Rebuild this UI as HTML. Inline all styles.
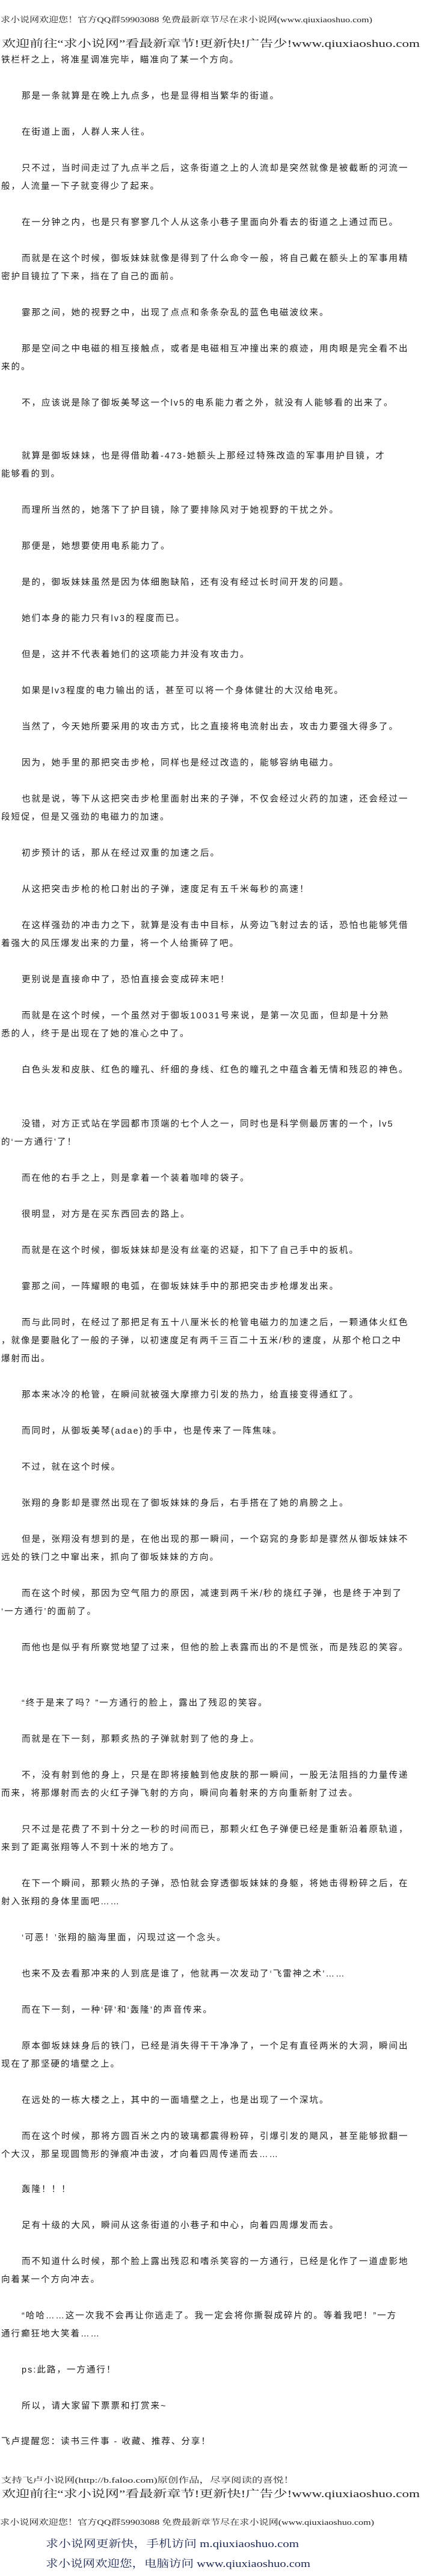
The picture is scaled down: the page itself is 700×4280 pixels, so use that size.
<!DOCTYPE html>
<html><head><meta charset="utf-8">
<style>
html,body{margin:0;padding:0;background:#fff;}
body{width:700px;height:4280px;position:relative;overflow:hidden;}
.l{position:absolute;white-space:nowrap;font-family:"Liberation Sans","Noto Sans CJK SC",sans-serif;font-size:14.5px;letter-spacing:2px;line-height:30px;color:#1a1a1a;height:30px;}
.i{left:36px;}
.c{left:2px;}
svg text{font-family:"Liberation Serif","Noto Serif CJK SC","Noto Sans CJK SC",serif;}
</style></head><body>

<svg width="700" height="130" style="position:absolute;left:0;top:0">
<text x="1" y="37" font-size="13" textLength="618" lengthAdjust="spacingAndGlyphs" fill="#222" font-family="Liberation Sans,Noto Sans CJK SC,sans-serif">求小说网欢迎您！官方QQ群59903088 免费最新章节尽在求小说网(www.qiuxiaoshuo.com)</text>
<text x="3" y="78" font-size="17" textLength="695" lengthAdjust="spacingAndGlyphs" fill="#222">欢迎前往“求小说网”看最新章节!更新快!广告少!www.qiuxiaoshuo.com</text>
</svg>
<div class="l c" style="top:85px">铁栏杆之上，将准星调准完毕，瞄准向了某一个方向。</div>

<div class="l i" style="top:145px">那是一条就算是在晚上九点多，也是显得相当繁华的街道。</div>
<div class="l i" style="top:205px">在街道上面，人群人来人往。</div>
<div class="l i" style="top:265px">只不过，当时间走过了九点半之后，这条街道之上的人流却是突然就像是被截断的河流一</div>
<div class="l c" style="top:295px">般，人流量一下子就变得少了起来。</div>
<div class="l i" style="top:355px">在一分钟之内，也是只有寥寥几个人从这条小巷子里面向外看去的街道之上通过而已。</div>
<div class="l i" style="top:415px">而就是在这个时候，御坂妹妹就像是得到了什么命令一般，将自己戴在额头上的军事用精</div>
<div class="l c" style="top:445px">密护目镜拉了下来，挡在了自己的面前。</div>
<div class="l i" style="top:505px">霎那之间，她的视野之中，出现了点点和条条杂乱的蓝色电磁波纹来。</div>
<div class="l i" style="top:565px">那是空间之中电磁的相互接触点，或者是电磁相互冲撞出来的痕迹，用肉眼是完全看不出</div>
<div class="l c" style="top:595px">来的。</div>
<div class="l i" style="top:655px">不，应该说是除了御坂美琴这一个lv5的电系能力者之外，就没有人能够看的出来了。</div>
<div class="l i" style="top:743px">就算是御坂妹妹，也是得借助着-473-她额头上那经过特殊改造的军事用护目镜，才</div>
<div class="l c" style="top:773px">能够看的到。</div>
<div class="l i" style="top:833px">而理所当然的，她落下了护目镜，除了要排除风对于她视野的干扰之外。</div>
<div class="l i" style="top:893px">那便是，她想要使用电系能力了。</div>
<div class="l i" style="top:953px">是的，御坂妹妹虽然是因为体细胞缺陷，还有没有经过长时间开发的问题。</div>
<div class="l i" style="top:1013px">她们本身的能力只有lv3的程度而已。</div>
<div class="l i" style="top:1073px">但是，这并不代表着她们的这项能力并没有攻击力。</div>
<div class="l i" style="top:1133px">如果是lv3程度的电力输出的话，甚至可以将一个身体健壮的大汉给电死。</div>
<div class="l i" style="top:1193px">当然了，今天她所要采用的攻击方式，比之直接将电流射出去，攻击力要强大得多了。</div>
<div class="l i" style="top:1253px">因为，她手里的那把突击步枪，同样也是经过改造的，能够容纳电磁力。</div>
<div class="l i" style="top:1313px">也就是说，等下从这把突击步枪里面射出来的子弹，不仅会经过火药的加速，还会经过一</div>
<div class="l c" style="top:1343px">段短促，但是又强劲的电磁力的加速。</div>
<div class="l i" style="top:1403px">初步预计的话，那从在经过双重的加速之后。</div>
<div class="l i" style="top:1463px">从这把突击步枪的枪口射出的子弹，速度足有五千米每秒的高速！</div>
<div class="l i" style="top:1523px">在这样强劲的冲击力之下，就算是没有击中目标，从旁边飞射过去的话，恐怕也能够凭借</div>
<div class="l c" style="top:1553px">着强大的风压爆发出来的力量，将一个人给撕碎了吧。</div>
<div class="l i" style="top:1613px">更别说是直接命中了，恐怕直接会变成碎末吧！</div>
<div class="l i" style="top:1673px">而就是在这个时候，一个虽然对于御坂10031号来说，是第一次见面，但却是十分熟</div>
<div class="l c" style="top:1703px">悉的人，终于是出现在了她的准心之中了。</div>
<div class="l i" style="top:1763px">白色头发和皮肤、红色的瞳孔、纤细的身线、红色的瞳孔之中蕴含着无情和残忍的神色。</div>
<div class="l i" style="top:1853px">没错，对方正式站在学园都市顶端的七个人之一，同时也是科学侧最厉害的一个，lv5</div>
<div class="l c" style="top:1883px">的‘一方通行’了！</div>
<div class="l i" style="top:1943px">而在他的右手之上，则是拿着一个装着咖啡的袋子。</div>
<div class="l i" style="top:2003px">很明显，对方是在买东西回去的路上。</div>
<div class="l i" style="top:2063px">而就是在这个时候，御坂妹妹却是没有丝毫的迟疑，扣下了自己手中的扳机。</div>
<div class="l i" style="top:2123px">霎那之间，一阵耀眼的电弧，在御坂妹妹手中的那把突击步枪爆发出来。</div>
<div class="l i" style="top:2183px">而与此同时，在经过了那把足有五十八厘米长的枪管电磁力的加速之后，一颗通体火红色</div>
<div class="l c" style="top:2213px">，就像是要融化了一般的子弹，以初速度足有两千三百二十五米/秒的速度，从那个枪口之中</div>
<div class="l c" style="top:2243px">爆射而出。</div>
<div class="l i" style="top:2303px">那本来冰冷的枪管，在瞬间就被强大摩擦力引发的热力，给直接变得通红了。</div>
<div class="l i" style="top:2363px">而同时，从御坂美琴(adae)的手中，也是传来了一阵焦味。</div>
<div class="l i" style="top:2423px">不过，就在这个时候。</div>
<div class="l i" style="top:2483px">张翔的身影却是骤然出现在了御坂妹妹的身后，右手搭在了她的肩膀之上。</div>
<div class="l i" style="top:2543px">但是，张翔没有想到的是，在他出现的那一瞬间，一个窈窕的身影却是骤然从御坂妹妹不</div>
<div class="l c" style="top:2573px">远处的铁门之中窜出来，抓向了御坂妹妹的方向。</div>
<div class="l i" style="top:2633px">而在这个时候，那因为空气阻力的原因，减速到两千米/秒的烧红子弹，也是终于冲到了</div>
<div class="l c" style="top:2663px">‘一方通行’的面前了。</div>
<div class="l i" style="top:2723px">而他也是似乎有所察觉地望了过来，但他的脸上表露而出的不是慌张，而是残忍的笑容。</div>
<div class="l i" style="top:2815px">“终于是来了吗？”一方通行的脸上，露出了残忍的笑容。</div>
<div class="l i" style="top:2875px">而就是在下一刻，那颗炙热的子弹就射到了他的身上。</div>
<div class="l i" style="top:2935px">不，没有射到他的身上，只是在即将接触到他皮肤的那一瞬间，一股无法阻挡的力量传递</div>
<div class="l c" style="top:2965px">而来，将那爆射而去的火红子弹飞射的方向，瞬间向着射来的方向重新射了过去。</div>
<div class="l i" style="top:3025px">只不过是花费了不到十分之一秒的时间而已，那颗火红色子弹便已经是重新沿着原轨道，</div>
<div class="l c" style="top:3055px">来到了距离张翔等人不到十米的地方了。</div>
<div class="l i" style="top:3115px">在下一个瞬间，那颗火热的子弹，恐怕就会穿透御坂妹妹的身躯，将她击得粉碎之后，在</div>
<div class="l c" style="top:3145px">射入张翔的身体里面吧……</div>
<div class="l i" style="top:3205px">‘可恶！’张翔的脑海里面，闪现过这一个念头。</div>
<div class="l i" style="top:3265px">也来不及去看那冲来的人到底是谁了，他就再一次发动了‘飞雷神之术’……</div>
<div class="l i" style="top:3325px">而在下一刻，一种‘砰’和‘轰隆’的声音传来。</div>
<div class="l i" style="top:3385px">原本御坂妹妹身后的铁门，已经是消失得干干净净了，一个足有直径两米的大洞，瞬间出</div>
<div class="l c" style="top:3415px">现在了那坚硬的墙壁之上。</div>
<div class="l i" style="top:3475px">在远处的一栋大楼之上，其中的一面墙壁之上，也是出现了一个深坑。</div>
<div class="l i" style="top:3535px">而在这个时候，那将方圆百米之内的玻璃都震得粉碎，引爆引发的飓风，甚至能够掀翻一</div>
<div class="l c" style="top:3565px">个大汉，那呈现圆筒形的弹痕冲击波，才向着四周传递而去……</div>
<div class="l i" style="top:3623px">轰隆！！！</div>
<div class="l i" style="top:3683px">足有十级的大风，瞬间从这条街道的小巷子和中心，向着四周爆发而去。</div>
<div class="l i" style="top:3743px">而不知道什么时候，那个脸上露出残忍和嗜杀笑容的一方通行，已经是化作了一道虚影地</div>
<div class="l c" style="top:3773px">向着某一个方向冲去。</div>
<div class="l i" style="top:3833px">“哈哈……这一次我不会再让你逃走了。我一定会将你撕裂成碎片的。等着我吧！”一方</div>
<div class="l c" style="top:3863px">通行癫狂地大笑着……</div>
<div class="l i" style="top:3923px">ps:此路，一方通行！</div>
<div class="l i" style="top:3983px">所以，请大家留下票票和打赏来~</div>
<div class="l c" style="top:4042px">飞卢提醒您：读书三件事 - 收藏、推荐、分享！</div>

<svg width="700" height="180" style="position:absolute;left:0;top:4100px">
<text x="2" y="25" font-size="13" textLength="487" lengthAdjust="spacingAndGlyphs" fill="#222" font-family="Liberation Sans,Noto Sans CJK SC,sans-serif">支持飞卢小说网(http://b.faloo.com)原创作品，尽享阅读的喜悦！</text>
<text x="3" y="49" font-size="17" textLength="695" lengthAdjust="spacingAndGlyphs" fill="#222">欢迎前往“求小说网”看最新章节!更新快!广告少!www.qiuxiaoshuo.com</text>
<text x="0" y="95" font-size="13" textLength="622" lengthAdjust="spacingAndGlyphs" fill="#222" font-family="Liberation Sans,Noto Sans CJK SC,sans-serif">求小说网欢迎您！官方QQ群59903088 免费最新章节尽在求小说网(www.qiuxiaoshuo.com)</text>
<text x="76" y="132" font-size="17" textLength="421" lengthAdjust="spacingAndGlyphs" fill="#1c2850">求小说网更新快，手机访问 m.qiuxiaoshuo.com</text>
<text x="76" y="165" font-size="17" textLength="440" lengthAdjust="spacingAndGlyphs" fill="#1c2850">求小说网欢迎您，电脑访问 www.qiuxiaoshuo.com</text>
</svg>
</body></html>
